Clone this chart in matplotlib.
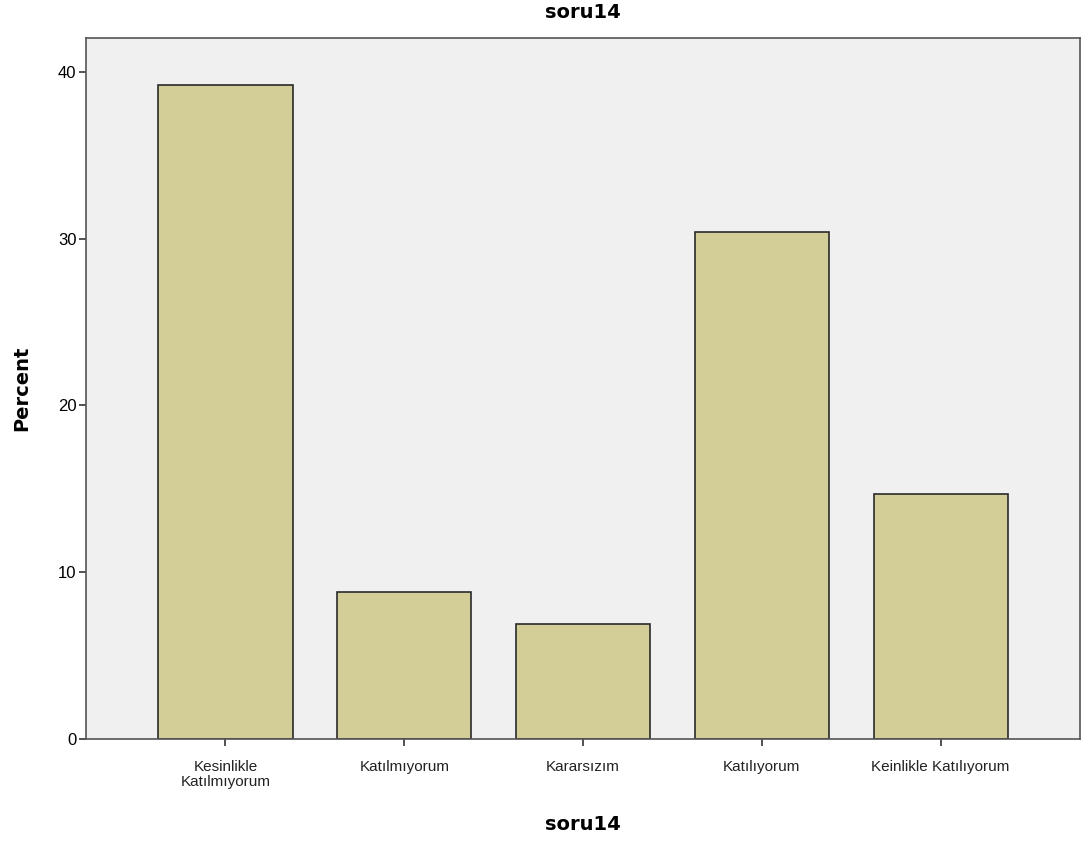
import matplotlib
matplotlib.use("Agg")
import matplotlib.pyplot as plt

categories = ["Kesinlikle\nKatılmıyorum", "Katılmıyorum", "Kararsızım", "Katılıyorum", "Keinlikle Katılıyorum"]
percent = [39.2, 8.8, 6.9, 30.4, 14.7]
yticks = [0, 10, 20, 30, 40]

plt.rcParams['font.family'] = ['Liberation Sans', 'DejaVu Sans']

fig = plt.figure(figsize=(10.92, 8.43), dpi=100)
ax = fig.add_axes([0.0788, 0.1234, 0.9102, 0.8316])
ax.set_facecolor('#F0F0F0')

x = list(range(len(categories)))
ax.bar(x, percent, width=0.75, color='#D3CE97', edgecolor='#2a2a2a', linewidth=1.2, zorder=2)

ax.set_xlim(-0.78, 4.78)
ax.set_ylim(0, (739 - 38) / 16.675)
ax.set_yticks(yticks)
ax.set_xticks(x)
ax.set_xticklabels(categories, fontsize=11, color='#222222', linespacing=1.1)
ax.tick_params(axis='y', labelsize=12, length=5, width=1.2, color='#333333', pad=2)
ax.tick_params(axis='x', length=5, width=1.2, color='#333333', pad=10)

for s in ax.spines.values():
    s.set_color('#555555')
    s.set_linewidth(1.2)

ax.set_title('soru14', fontsize=14, fontweight='bold', family='DejaVu Sans', pad=14)
ax.set_xlabel('soru14', fontsize=14, fontweight='bold', family='DejaVu Sans', labelpad=19)
ax.set_ylabel('Percent', fontsize=14, fontweight='bold', family='DejaVu Sans', labelpad=19)

fig.savefig('out.png', dpi=100)
